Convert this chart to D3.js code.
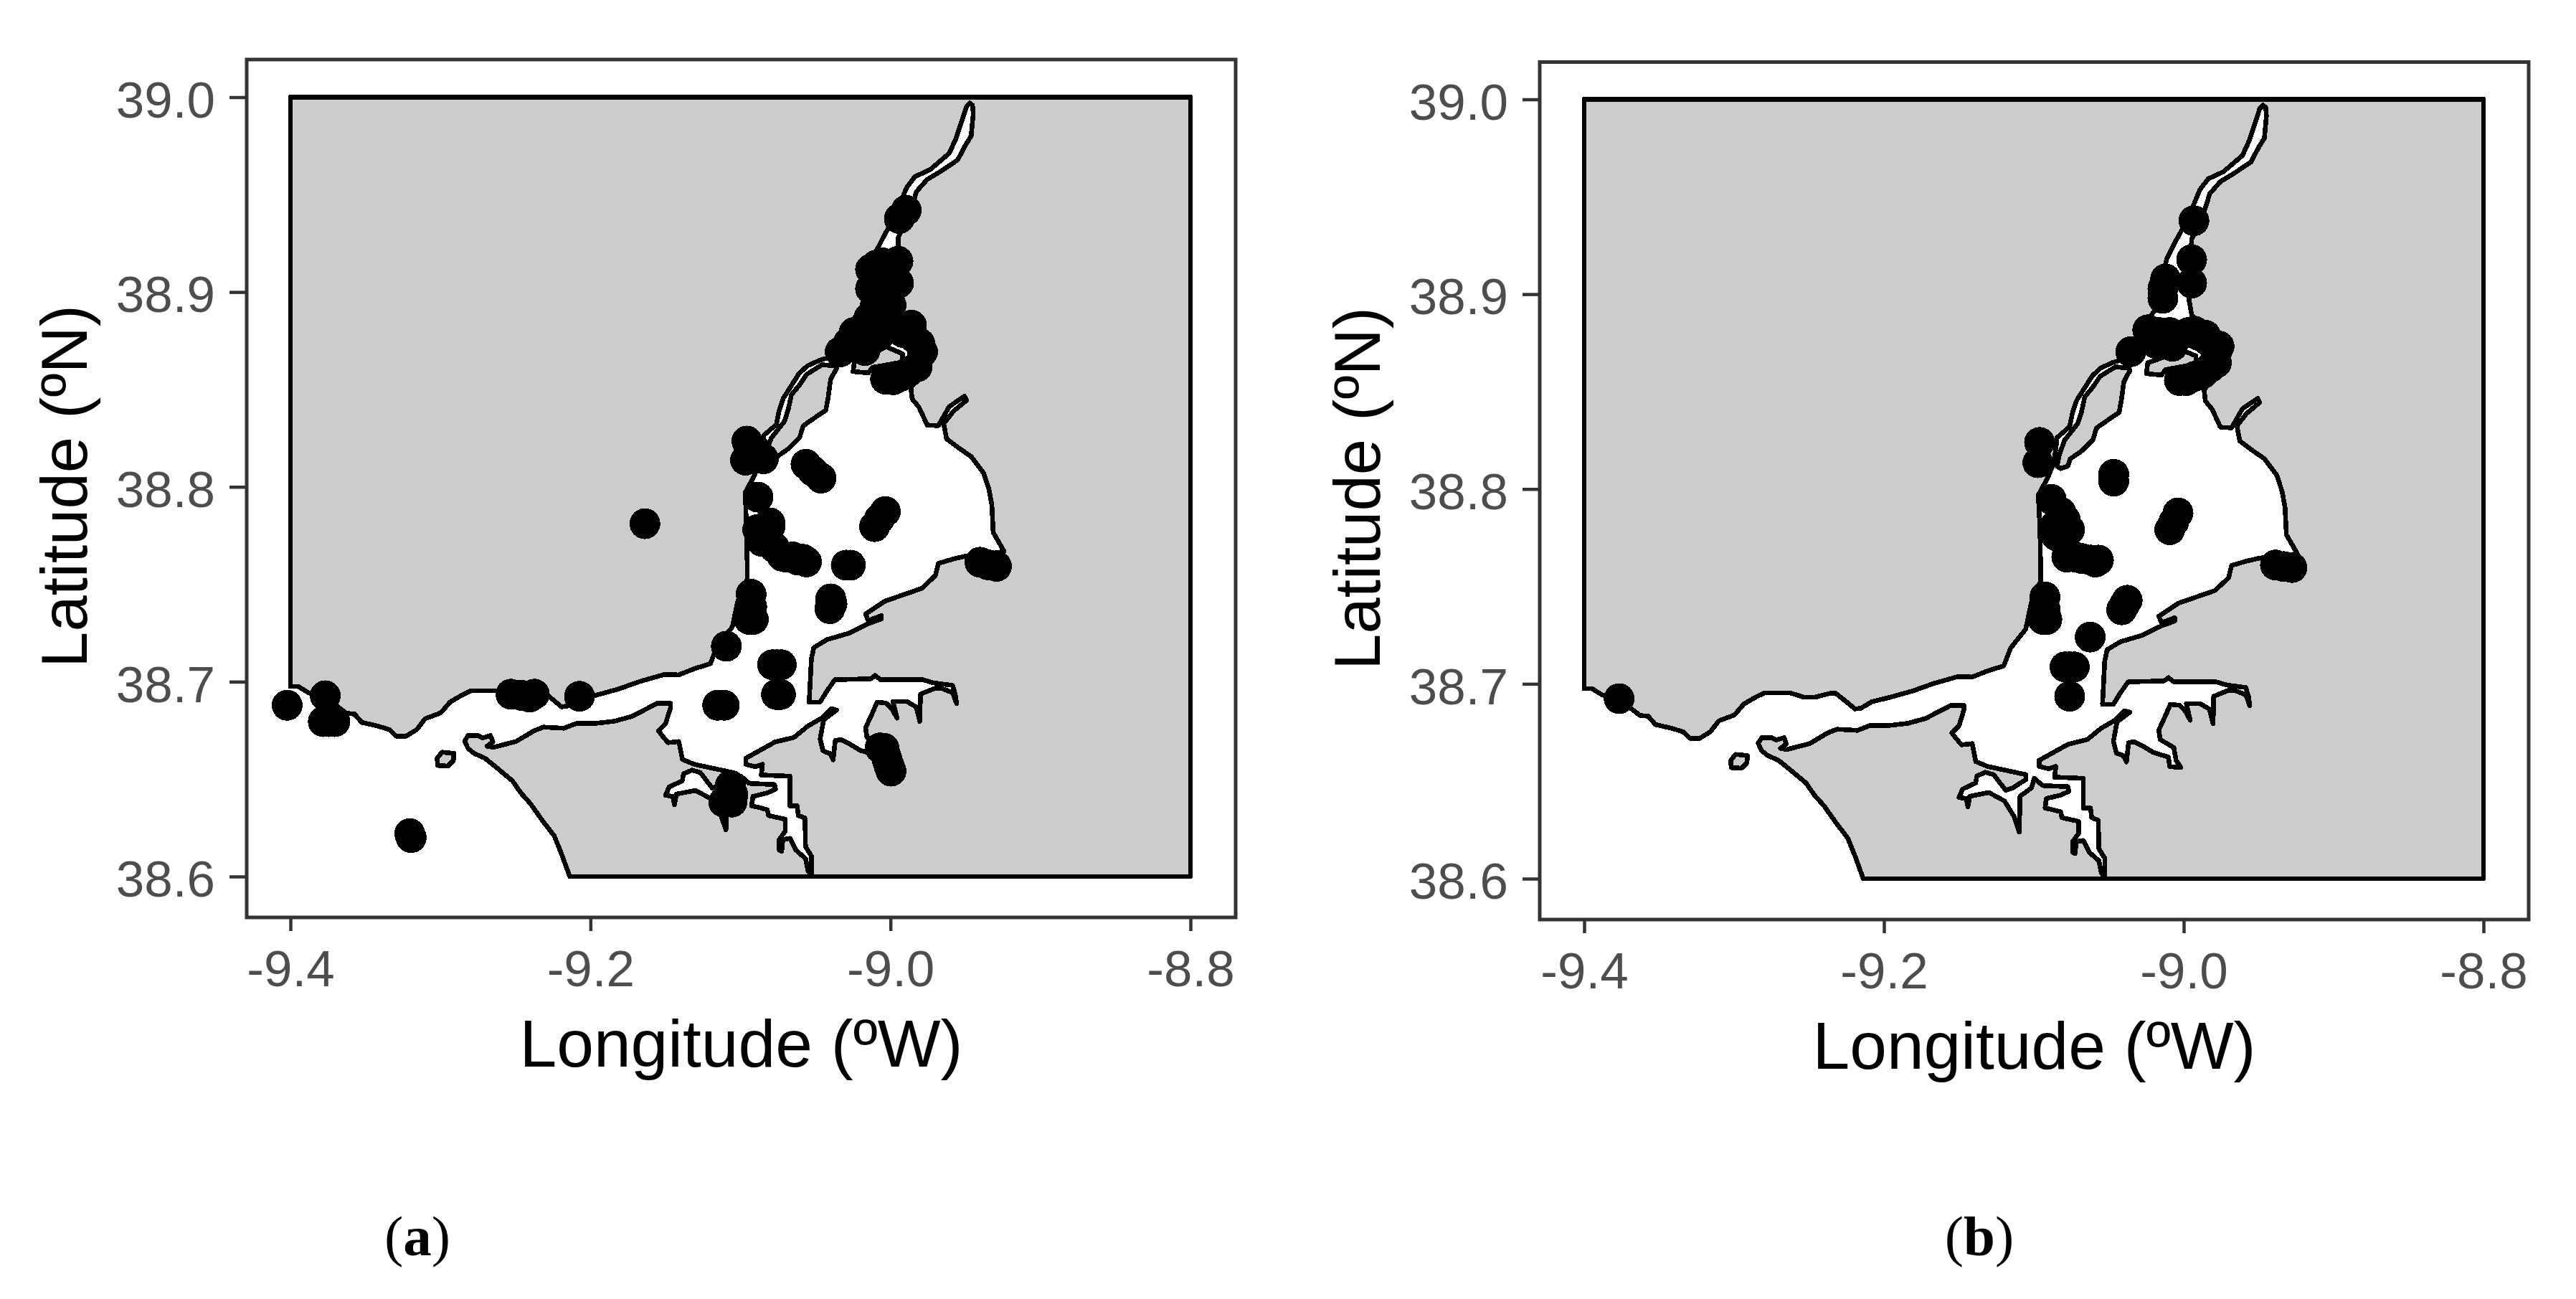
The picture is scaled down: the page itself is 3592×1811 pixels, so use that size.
<!DOCTYPE html>
<html><head><meta charset="utf-8">
<script src="https://cdn.jsdelivr.net/npm/d3@7"></script>
<style>html,body{margin:0;padding:0;background:#fff}svg{display:block}</style>
</head><body><svg id="c" width="3592" height="1811"></svg>
<script>
const lonTicks=[-9.4,-9.2,-9.0,-8.8];
const latTicks=[38.6,38.7,38.8,38.9,39.0];
const xTitle="Longitude (ºW)", yTitle="Latitude (ºN)";
const panelLabels=["a","b"];

// land outline [lon,lat]
const land=[[-9.4,39],[-8.8,39],[-8.8,38.6],[-9.2138,38.6],
[-9.2193,38.6116],[-9.2241,38.6208],[-9.2321,38.6288],[-9.24,38.6374],[-9.2464,38.6429],[-9.252,38.6491],[-9.2624,38.6558],[-9.2703,38.6607],[-9.2775,38.6632],[-9.2815,38.6656],[-9.2839,38.6695],[-9.2815,38.6724],[-9.2751,38.6724],[-9.2719,38.6711],[-9.2667,38.6724],[-9.2651,38.6691],[-9.269,38.6669],[-9.2648,38.6663],[-9.2496,38.6693],[-9.2376,38.6748],[-9.2313,38.6767],[-9.2177,38.6761],[-9.2097,38.6785],[-9.198,38.6785],[-9.1842,38.6797],
[-9.1723,38.6822],[-9.1555,38.6889],[-9.1467,38.6889],[-9.1467,38.6865],[-9.1499,38.6785],[-9.1547,38.6748],[-9.1523,38.6724],[-9.1483,38.6687],[-9.1411,38.6693],[-9.1387,38.6601],[-9.1308,38.6576],[-9.1053,38.6534],[-9.1053,38.6509],[-9.114,38.6466],[-9.1188,38.6454],[-9.1268,38.6534],[-9.1324,38.6546],[-9.138,38.6527],[-9.1388,38.6491],[-9.1475,38.646],[-9.1499,38.6417],[-9.1451,38.6411],[-9.144,38.6368],[-9.1427,38.6423],[-9.13,38.6442],[-9.1196,38.6399],[-9.1132,38.6319],[-9.1097,38.6239],[-9.1092,38.6423],[-9.1016,38.6466],[-9.0997,38.6515],[-9.0941,38.6478],[-9.0773,38.6472],[-9.0766,38.6448],[-9.0821,38.6429],[-9.0917,38.6411],[-9.0925,38.6362],[-9.0885,38.6356],[-9.0821,38.6343],[-9.0813,38.6313],[-9.0701,38.6294],[-9.0701,38.6233],[-9.0741,38.619],[-9.0741,38.6135],[-9.0725,38.6129],[-9.0717,38.619],[-9.067,38.6196],[-9.063,38.6135],[-9.0566,38.6092],[-9.055,38.603],[-9.0526,38.6006],[-9.0526,38.6104],[-9.0566,38.6153],[-9.057,38.63],[-9.0614,38.6313],[-9.0622,38.6362],[-9.067,38.6362],[-9.067,38.6515],[-9.0861,38.6521],[-9.0853,38.6576],[-9.0901,38.6564],[-9.0965,38.6576],[-9.0965,38.6607],
[-9.0771,38.669],[-9.0643,38.6714],[-9.0551,38.6772],[-9.0459,38.6813],[-9.0395,38.6862],[-9.0359,38.6854],[-9.0445,38.6805],[-9.0469,38.6706],[-9.0449,38.6644],[-9.0404,38.6632],[-9.0382,38.6599],[-9.0368,38.6698],[-9.0331,38.6703],[-9.0276,38.6682],[-9.0203,38.6648],[-9.0102,38.6624],[-9.0093,38.6575],[-9.002,38.6571],[-9.0051,38.6608],[-9.0066,38.6673],[-9.0157,38.6714],[-9.0166,38.6763],[-9.0121,38.6838],[-9.0089,38.6895],[-9.0029,38.689],[-8.9992,38.6862],[-8.9956,38.6813],[-8.9983,38.6899],[-8.9892,38.6899],[-8.9828,38.687],[-8.9804,38.6796],[-8.98,38.6936],[-8.9703,38.6966],[-8.966,38.6966],[-8.9586,38.6944],[-8.9559,38.6887],[-8.9568,38.6936],[-8.9586,38.6981],[-8.9714,38.6994],[-8.9783,38.701],[-9.0066,38.701],[-9.0102,38.7032],[-9.013,38.7015],[-9.0371,38.701],[-9.0423,38.6953],[-9.0469,38.6895],[-9.0542,38.6895],[-9.0527,38.7117],[-9.0511,38.7175],[-9.0423,38.7216],[-9.0276,38.7249],[-9.0148,38.7298],[-9.006,38.7322],[-9.006,38.7339],[-9.0148,38.7314],[-9.0166,38.7347],[-9.0038,38.7413],[-8.9791,38.7479],[-8.97,38.7545],[-8.9681,38.7607],[-8.9581,38.763],[-8.9489,38.7646],[-8.9398,38.7651],[-8.9242,38.7668],[-8.9315,38.7766],[-8.9324,38.7906],[-8.9343,38.7986],[-8.9379,38.8071],[-8.9461,38.8155],[-8.9553,38.8204],[-8.9626,38.8247],[-8.9645,38.8324],[-8.958,38.8388],[-8.9493,38.8444],[-8.9507,38.8465],[-8.9608,38.8412],[-8.9681,38.8314],[-8.9755,38.8317],[-8.981,38.8409],[-8.9855,38.8451],[-8.9864,38.8507],[-8.98,38.8578],[-8.9764,38.8705],[-8.9837,38.8803],[-8.9947,38.8895],[-8.9965,38.8972],[-8.9956,38.9127],[-8.9947,38.9282],[-8.9901,38.9353],[-8.9855,38.9444],[-8.9826,38.9516],[-8.9755,38.9578],[-8.9664,38.962],[-8.9552,38.9678],[-8.9499,38.9755],[-8.9462,38.98],[-8.9448,38.9916],[-8.9453,38.9959],[-8.9471,38.997],[-8.9493,38.9952],[-8.9526,38.9874],[-8.9562,38.979],[-8.9608,38.9712],[-8.9736,38.9628],[-8.9837,38.9592],[-8.9892,38.9536],[-8.9938,38.9451],[-9.0011,38.9332],[-9.0047,38.9282],[-9.0112,38.9184],[-9.0148,38.9071],[-9.0194,38.8916],[-9.0313,38.8789],[-9.0411,38.8664],[-9.0474,38.8649],[-9.0554,38.8621],[-9.061,38.8581],[-9.0661,38.8519],[-9.0714,38.8455],[-9.0741,38.8394],[-9.0761,38.832],[-9.0845,38.8264],[-9.0853,38.8209],[-9.0869,38.8129],[-9.0909,38.8055],[-9.0968,38.7972],[-9.0957,38.7725],[-9.0954,38.7528],[-9.1018,38.7413],[-9.1054,38.7281],[-9.1155,38.7183],[-9.1201,38.7092],[-9.1302,38.7068],[-9.1412,38.7035],[-9.1507,38.7037],[-9.1675,38.7],[-9.181,38.6963],[-9.1969,38.6929],[-9.2081,38.6908],[-9.2153,38.6875],[-9.2193,38.6871],[-9.2241,38.6902],[-9.2321,38.6951],[-9.236,38.6951],[-9.2456,38.6932],[-9.2536,38.6932],[-9.2624,38.6953],[-9.2799,38.6953],[-9.2855,38.6932],[-9.2935,38.6896],[-9.2998,38.684],[-9.3102,38.681],[-9.3158,38.6754],[-9.323,38.672],[-9.3293,38.672],[-9.3341,38.6754],[-9.3421,38.6773],[-9.3525,38.6791],[-9.3573,38.6834],[-9.3628,38.6838],[-9.3684,38.6871],[-9.3772,38.6914],[-9.3884,38.6945],[-9.3947,38.6975],[-9.4,38.6975]];
const lens=[[-9.0795,38.825],[-9.0706,38.8337],[-9.0682,38.8396],[-9.066,38.8473],[-9.0606,38.8523],[-9.0558,38.8578],[-9.0455,38.8627],[-9.0367,38.862],[-9.0359,38.8608],[-9.0399,38.8552],[-9.0415,38.846],[-9.0431,38.8393],[-9.0502,38.8356],[-9.0582,38.8313],[-9.0606,38.8252],[-9.0678,38.8197],[-9.0758,38.8154],[-9.0774,38.8117],[-9.0821,38.8105],[-9.0845,38.8117],[-9.0829,38.8178]];
const midIsland=[[-9.024,38.8648],[-9.0249,38.8592],[-9.0148,38.8585],[-9.0121,38.8613],[-8.9919,38.8641],[-8.9919,38.8683],[-9.0029,38.8719],[-9.013,38.8677]];
const bugio=[[-9.3022,38.6607],[-9.299,38.6638],[-9.2911,38.6632],[-9.2914,38.6595],[-9.295,38.6567],[-9.3019,38.657]];

// sampling stations, panel (a)
const stationsA=[[-9.4022,38.6879],[-9.3768,38.6928],[-9.3781,38.6795],[-9.3742,38.6795],[-9.3704,38.6795],[-9.3205,38.622],[-9.3195,38.62],[-9.253,38.6936],[-9.246,38.693],[-9.2374,38.6936],[-9.2406,38.6921],[-9.2073,38.6925],[-9.1094,38.7182],[-9.1152,38.6879],[-9.1108,38.6879],[-9.0786,38.7087],[-9.0757,38.7087],[-9.0728,38.7087],[-9.076,38.6934],[-9.0733,38.6934],[-9.0929,38.7449],[-9.0925,38.7385],[-9.0942,38.732],[-9.0914,38.732],[-9.0398,38.7425],[-9.039,38.74],[-9.0404,38.7375],[-9.0042,38.6658],[-9.007,38.666],[-9.0035,38.663],[-9.0023,38.6602],[-9.001,38.657],[-8.9996,38.6541],[-9.1067,38.6468],[-9.105,38.642],[-9.1112,38.6382],[-9.1057,38.6382],[-8.9941,38.9377],[-8.9895,38.9419],[-8.995,38.9158],[-8.9946,38.9046],[-9.0096,38.9137],[-8.9987,38.9144],[-8.9996,38.9046],[-9.0133,38.9017],[-9.0133,38.9116],[-9.0055,38.915],[-9.0055,38.909],[-9.0055,38.899],[-9.0078,38.8933],[-8.9996,38.8933],[-9.01,38.888],[-9,38.888],[-9.0142,38.887],[-9.0243,38.8792],[-9.0335,38.8693],[-9.0115,38.8778],[-9.0215,38.8721],[-9.019,38.879],[-9.028,38.874],[-9.017,38.87],[-9.006,38.879],[-9.0023,38.882],[-8.996,38.883],[-8.9914,38.8792],[-8.986,38.883],[-8.985,38.877],[-8.9804,38.8736],[-8.9786,38.8693],[-8.9822,38.8616],[-8.9932,38.8567],[-8.988,38.859],[-9.0033,38.8553],[-8.998,38.855],[-9.0957,38.8235],[-9.09,38.819],[-9.0966,38.8137],[-9.0847,38.8144],[-9.0883,38.7947],[-9.0563,38.8116],[-9.0518,38.8081],[-9.0463,38.8045],[-9.0803,38.7796],[-9.0803,38.7815],[-9.0885,38.7781],[-9.0858,38.772],[-9.0775,38.7689],[-9.0721,38.7644],[-9.07,38.764],[-9.0652,38.764],[-9.062,38.7625],[-9.0583,38.7628],[-9.056,38.7615],[-9.0295,38.7598],[-9.0267,38.7598],[-9.0034,38.7873],[-9.0073,38.7836],[-9.0106,38.7796],[-8.9403,38.7613],[-8.935,38.76],[-8.9293,38.7592],[-9.1637,38.7811]];
// sampling stations, panel (b)
const stationsB=[[-9.3767,38.6924],[-8.9932,38.9377],[-8.9947,38.9177],[-8.9947,38.9057],[-9.0121,38.9078],[-9.0139,38.9029],[-9.0139,38.8979],[-9.024,38.8817],[-9.0353,38.8705],[-9.0185,38.8747],[-9.0166,38.8803],[-9.0093,38.8803],[-9.0045,38.8789],[-8.9967,38.8803],[-8.9928,38.881],[-8.9855,38.8789],[-8.9837,38.8761],[-8.9764,38.8733],[-8.9782,38.8698],[-8.9782,38.8648],[-8.9818,38.8627],[-8.9873,38.8592],[-8.9928,38.8578],[-8.9983,38.8557],[-9.0029,38.8557],[-9.0075,38.8733],[-8.9902,38.8789],[-9.0962,38.8239],[-9.0973,38.8135],[-9.0467,38.8075],[-9.0467,38.804],[-9.0884,38.7947],[-9.082,38.788],[-9.0789,38.784],[-9.0862,38.7807],[-9.0761,38.7791],[-9.085,38.776],[-9.079,38.777],[-9.078,38.7651],[-9.072,38.765],[-9.0679,38.7643],[-9.062,38.7635],[-9.059,38.7625],[-9.0569,38.7635],[-9.0038,38.7877],[-9.0066,38.7832],[-9.0093,38.7791],[-8.9388,38.761],[-8.9333,38.7602],[-8.9278,38.7597],[-9.0377,38.7429],[-9.0395,38.7405],[-9.0414,38.738],[-9.0926,38.7446],[-9.0926,38.7385],[-9.0939,38.7331],[-9.0913,38.7331],[-9.0624,38.724],[-9.0792,38.7087],[-9.0761,38.7087],[-9.073,38.7087],[-9.0761,38.6936]];

const svg=d3.select("#c");
const tick=v=>v.toFixed(1);
const sans="'Liberation Sans',Arial,sans-serif";

function panel(cfg){
  const x=d3.scaleLinear().domain([-9.4,-8.8]).range(cfg.xr);
  const y=d3.scaleLinear().domain([38.6,39]).range(cfg.yr);
  const g=svg.append("g");
  const line=d3.line().x(d=>x(d[0])).y(d=>y(d[1])).curve(d3.curveLinearClosed);
  [land,lens,midIsland,bugio].forEach(p=>{
    g.append("path").attr("d",line(p)).attr("fill","#CCCCCC").attr("stroke","#000")
     .attr("stroke-width",6.6).attr("stroke-linejoin","round").attr("shape-rendering","crispEdges");
  });
  g.selectAll("circle").data(cfg.stations).join("circle")
   .attr("cx",d=>x(d[0])).attr("cy",d=>y(d[1])).attr("r",21.5).attr("fill","#000").attr("shape-rendering","crispEdges");

  const [L,T,R,B]=cfg.box;
  g.append("rect").attr("x",L).attr("y",T).attr("width",R-L).attr("height",B-T)
   .attr("fill","none").attr("stroke","#333").attr("stroke-width",5);

  const ax=g.append("g").attr("transform",`translate(0,${B})`)
    .call(d3.axisBottom(x).tickValues(lonTicks).tickFormat(tick).tickSize(19).tickPadding(27));
  const ay=g.append("g").attr("transform",`translate(${L},0)`)
    .call(d3.axisLeft(y).tickValues(latTicks).tickFormat(tick).tickSize(24).tickPadding(20));
  [ax,ay].forEach(a=>{
    a.select(".domain").remove();
    a.selectAll(".tick line").attr("stroke","#333").attr("stroke-width",4.5);
    a.selectAll("text").attr("fill","#4D4D4D").attr("font-family",sans).attr("font-size",71);
  });
  ay.selectAll("text").attr("dy","0.39em");

  g.append("text").text(xTitle).attr("x",(L+R)/2).attr("y",cfg.xTitleY).attr("text-anchor","middle")
   .attr("font-family",sans).attr("font-size",93).attr("fill","#000");
  g.append("text").text(yTitle)
   .attr("transform",`translate(${L-223.5},${cfg.yTitleMid}) rotate(-90)`).attr("text-anchor","middle")
   .attr("font-family",sans).attr("font-size",90.5).attr("fill","#000");

  const t=svg.append("text").attr("x",cfg.labelX).attr("y",1750).attr("text-anchor","middle")
   .attr("font-family","'Liberation Serif','Times New Roman',serif").attr("font-size",79).attr("fill","#000");
  t.append("tspan").text("(");
  t.append("tspan").text(cfg.label).attr("font-weight","bold");
  t.append("tspan").text(")");
}

panel({xr:[405,1660],yr:[1222,135.5],box:[344,83,1723,1279],stations:stationsA,xTitleY:1487,yTitleMid:678,labelX:582,label:panelLabels[0]});
panel({xr:[2209,3463],yr:[1225,138.5],box:[2147,86.5,3526,1282],stations:stationsB,xTitleY:1490,yTitleMid:681,labelX:2760,label:panelLabels[1]});
</script></body></html>
